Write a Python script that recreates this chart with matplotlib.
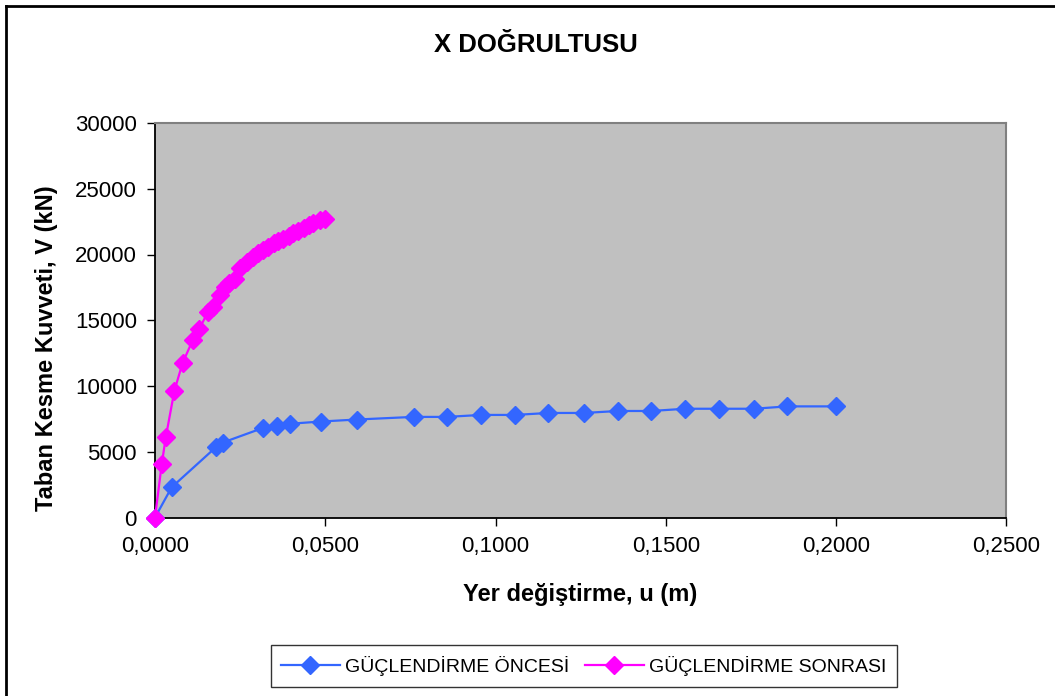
import matplotlib
matplotlib.use("Agg")
import matplotlib.pyplot as plt
from matplotlib.lines import Line2D
from matplotlib.ticker import FuncFormatter

plt.rcParams['font.family'] = ['Liberation Sans', 'DejaVu Sans']

# GÜÇLENDİRME ÖNCESİ (before strengthening)
u_once = [0.0, 0.0049, 0.0179, 0.0199, 0.0316, 0.0357, 0.0397, 0.0488, 0.0592,
          0.0759, 0.0857, 0.0957, 0.1057, 0.1155, 0.1260, 0.1359, 0.1457,
          0.1557, 0.1655, 0.1758, 0.1857, 0.2000]
v_once = [0, 2300, 5350, 5700, 6800, 6950, 7130, 7300, 7450,
          7650, 7650, 7800, 7800, 7950, 7950, 8100, 8100,
          8270, 8270, 8270, 8450, 8450]

# GÜÇLENDİRME SONRASI (after strengthening)
u_sonra = [0.0, 0.0020, 0.0032, 0.0057, 0.0081, 0.0111, 0.0130, 0.0155, 0.0171,
           0.0191, 0.0206, 0.0216, 0.0235, 0.0250, 0.0269, 0.0289, 0.0303,
           0.0318, 0.0333, 0.0348, 0.0362, 0.0377, 0.0392, 0.0406, 0.0421,
           0.0436, 0.0451, 0.0465, 0.0485, 0.0500]
v_sonra = [0, 4100, 6150, 9650, 11750, 13500, 14350, 15600, 16000,
           16900, 17500, 17850, 18150, 18950, 19450, 19800, 20100,
           20350, 20600, 20850, 21050, 21200, 21400, 21600, 21800,
           22050, 22250, 22400, 22600, 22700]

x_ticks = [0, 0.05, 0.10, 0.15, 0.20, 0.25]
y_ticks = [0, 5000, 10000, 15000, 20000, 25000, 30000]

fig = plt.figure(figsize=(10.55, 6.96), dpi=100)
ax = fig.add_axes([155/1055, 1 - 517.5/696, 851.5/1055, (517.5 - 123)/696])
ax.set_facecolor('#C0C0C0')

ax.plot(u_once, v_once, color='#3366FF', lw=1.6, marker='D', ms=9.5,
        label='GÜÇLENDİRME ÖNCESİ', clip_on=False, zorder=3)
ax.plot(u_sonra, v_sonra, color='#FF00FF', lw=1.6, marker='D', ms=9.5,
        label='GÜÇLENDİRME SONRASI', clip_on=False, zorder=4)

ax.set_xlim(0, 0.25)
ax.set_ylim(0, 30000)
ax.set_xticks(x_ticks)
ax.set_yticks(y_ticks)
ax.xaxis.set_major_formatter(FuncFormatter(lambda v, p: f"{v:.4f}".replace('.', ',')))
ax.tick_params(direction='out', length=6, width=1, labelsize=16, pad=7)

for s in ['left', 'bottom']:
    ax.spines[s].set_color('black')
    ax.spines[s].set_linewidth(1.3)
for s in ['top', 'right']:
    ax.spines[s].set_color('#808080')
    ax.spines[s].set_linewidth(1.5)

fig.text(536/1055, 1 - 45/696, 'X DOĞRULTUSU', ha='center', va='center',
         fontsize=18.5, fontweight='bold')
fig.text(47/1055, 1 - 348/696, 'Taban Kesme Kuvveti, V (kN)', rotation=90,
         ha='center', va='center', fontsize=17, fontweight='bold')
fig.text(580/1055, 1 - 595/696, 'Yer değiştirme, u (m)', ha='center',
         va='center', fontsize=17, fontweight='bold')

leg = fig.legend(loc='center', bbox_to_anchor=(584/1055, 1 - 666/696), ncol=2,
                 frameon=True, fancybox=False, edgecolor='black',
                 prop={'size': 14}, handlelength=3.0, handletextpad=0.3,
                 columnspacing=0.8, borderpad=0.55)
leg.get_frame().set_linewidth(1.0)

# chart border (only left and top edges visible in the original crop)
fig.add_artist(Line2D([6/1055, 6/1055], [0, 1 - 6/696], transform=fig.transFigure,
                      color='black', lw=2))
fig.add_artist(Line2D([6/1055, 1], [1 - 6/696, 1 - 6/696], transform=fig.transFigure,
                      color='black', lw=2))

fig.savefig('out.png', dpi=100)
